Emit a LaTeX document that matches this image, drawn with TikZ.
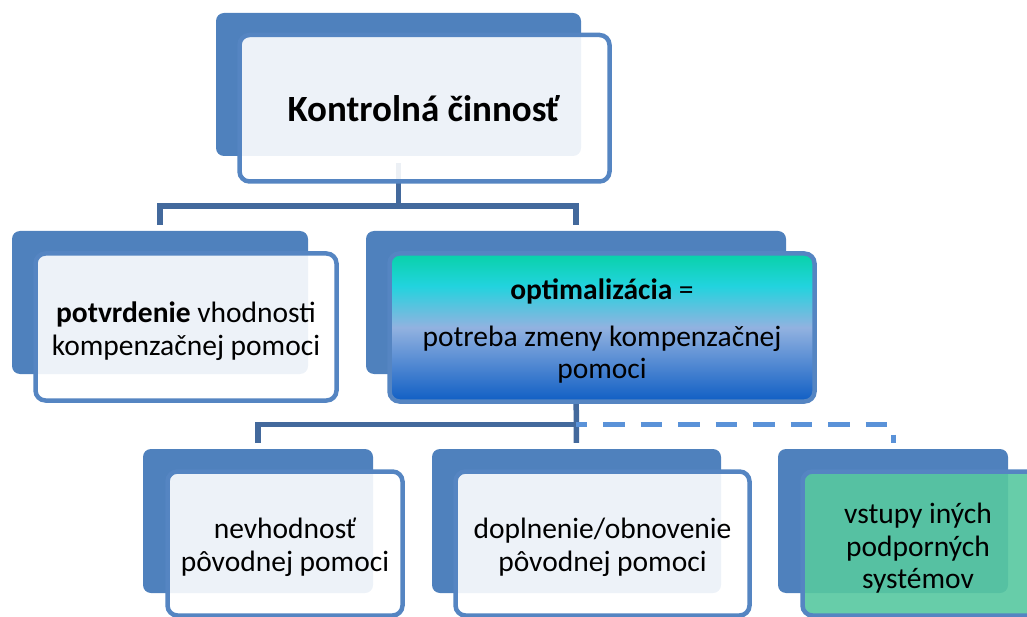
\documentclass[tikz,border=0pt]{standalone}
\usepackage{fontspec}
\setmainfont{Carlito}
\usetikzlibrary{calc}

\definecolor{backblue}{HTML}{4F81BD}
\definecolor{lineblue}{HTML}{5585C2}
\definecolor{connblue}{HTML}{43699C}
\definecolor{dashblue}{HTML}{5A92D8}
\definecolor{greenfill}{HTML}{57C8A0}
\definecolor{gradteal}{HTML}{08D2A8}
\definecolor{gradcyan}{HTML}{22D3DE}
\definecolor{gradlav}{HTML}{92B2E0}
\definecolor{gradblue}{HTML}{0F5EC4}

% teal at the top, cyan, pale lavender in the middle, deep blue at the bottom
\pgfdeclareverticalshading{optshade}{100bp}{%
  color(0bp)=(gradblue); color(25bp)=(gradblue); color(50bp)=(gradlav);
  color(64bp)=(gradcyan); color(75bp)=(gradteal); color(100bp)=(gradteal)}

\tikzset{
  backbox/.style={rectangle, rounded corners=8pt, fill=backblue, draw=none, inner sep=0pt},
  frontbox/.style={rectangle, rounded corners=10pt, draw=lineblue, line width=4.5pt,
    fill=white, fill opacity=0.9, inner sep=0pt},
  conn/.style={draw=connblue, line width=5.5pt},
  dconn/.style={draw=dashblue, line width=5pt, dash pattern=on 21.5pt off 16pt, dash phase=10.5pt},
  bigtxt/.style={inner sep=0pt, align=center, font=\fontsize{37}{44}\selectfont\bfseries},
  txt/.style={inner sep=0pt, align=center, font=\fontsize{29.5}{32.5}\selectfont},
}

\begin{document}
\begin{tikzpicture}[x=1pt, y=-1pt]
\useasboundingbox (0,0) rectangle (1027,617);

% back panels
\node[backbox, minimum width=365pt, minimum height=143pt] (topBack) at (398.5,84.5) {};
\node[backbox, minimum width=296pt, minimum height=143pt] (lBack) at (160,302.5) {};
\node[backbox, minimum width=420pt, minimum height=143pt] (mBack) at (576,302.5) {};
\node[backbox, minimum width=230pt, minimum height=144pt] (aBack) at (258,521) {};
\node[backbox, minimum width=289pt, minimum height=144pt] (bBack) at (576.5,521) {};
\node[backbox, minimum width=230pt, minimum height=144pt] (cBack) at (893,521) {};

% connectors
\coordinate (j1) at (400,206);
\coordinate (j2) at (576,424.5);
\draw[conn, shorten <=7pt] (topBack.south) -- (topBack.south |- j1);
\draw[conn, shorten <=6pt, shorten >=6pt] (lBack.north) |- (j1) -| (mBack.north);
\draw[conn, shorten >=6pt] (mBack.south) -- (bBack.north);
\draw[conn, shorten <=6pt] (aBack.north) |- (j2);
\draw[dconn, shorten >=6pt] (j2) -| (cBack.north);

% front panels
\node[frontbox, minimum width=370pt, minimum height=146.5pt] (topFront) at (424.5,108.25) {};
\node[frontbox, minimum width=301pt, minimum height=147pt] (lFront) at (186,327) {};
\node[frontbox, shading=optshade, fill opacity=1, minimum width=425pt, minimum height=148pt] (mFront) at (602,327.5) {};
\node[frontbox, minimum width=235pt, minimum height=144pt] (aFront) at (285,543.5) {};
\node[frontbox, minimum width=294pt, minimum height=144pt] (bFront) at (602.5,543.5) {};
\node[frontbox, fill=greenfill, fill opacity=0.9, minimum width=235pt, minimum height=144pt] (cFront) at (920,543.5) {};

% labels
\node[bigtxt] (topText) at ($(topFront)+(-1,0)$) {Kontrolná činnosť};
\node[txt] (lText) at ($(lFront)+(0,4)$) {\textbf{potvrdenie} vhodnosti\\kompenzačnej pomoci};
\node[txt] (mText) at ($(mFront)+(0,4)$) {\textbf{optimalizácia} =\\[14pt]potreba zmeny kompenzačnej\\pomoci};
\node[txt] (aText) at ($(aFront)+(0,4)$) {nevhodnosť\\pôvodnej pomoci};
\node[txt] (bText) at ($(bFront)+(0,4)$) {doplnenie/obnovenie\\pôvodnej pomoci};
\node[txt] (cText) at ($(cFront)+(-2,5)$) {vstupy iných\\podporných\\systémov};
\end{tikzpicture}
\end{document}
